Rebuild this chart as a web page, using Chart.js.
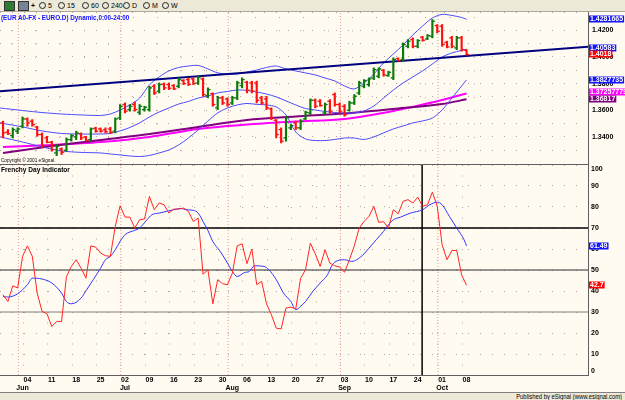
<!DOCTYPE html>
<html>
<head>
<meta charset="utf-8">
<title>EUR A0-FX daily with Frenchy Day Indicator</title>
<script src="https://cdn.jsdelivr.net/npm/chart.js@4.4.1/dist/chart.umd.min.js"></script>
<style>
html, body { margin: 0; padding: 0; }
body { width: 625px; height: 400px; position: relative; overflow: hidden; background: #fffbf0;
       font-family: 'Liberation Sans Narrow', 'Liberation Sans', Arial, sans-serif; }
.abs { position: absolute; }
.narrow { transform-origin: 0 0; white-space: nowrap; }
#toolbar { left: 0; top: 0; width: 625px; height: 11px; background: #ece9d8; border-bottom: 1px solid #aca899; }
#toolbar span, #toolbar b { position: absolute; top: 1px; font-size: 7px; line-height: 9px; color: #000; }
#toolbar u { display: inline-block; width: 5px; height: 5px; border: 1px solid #222; border-radius: 50%; margin-right: 2px; vertical-align: -1px; }
#toolbar i { position: absolute; top: 1px; width: 9px; height: 8px; }
#upper { left: 0; top: 12px; }
#lower { left: 0; top: 158px; }
#title { left: 1px; top: 13px; font-size: 8px; font-weight: bold; color: #1010ff; transform: scaleX(0.79); }
#copy { left: 1px; top: 157px; font-size: 5px; line-height: 6px; color: #000; transform: scaleX(0.93); }
#ind { left: 1px; top: 165px; font-size: 8px; font-weight: bold; color: #000; transform: scaleX(0.82); }
#footer { left: 0; top: 392px; width: 625px; height: 8px; background: #ece9d8; border-top: 1px solid #808080; }
#footer span { position: absolute; right: 3px; top: 0; font-size: 7px; line-height: 8px; transform-origin: 100% 0; transform: scaleX(0.84); white-space: nowrap; }
.frame { background: #606060; }
</style>
</head>
<body>
<div id="toolbar" class="abs">
  <i style="left:4px;background:#2f7d32;border:1px solid #333"></i>
  <i style="left:18px;background:#7a8296;border:1px solid #333"></i>
  <b style="left:31px">+</b>
  <span style="left:39px"><u></u>5</span>
  <span style="left:58px"><u></u>15</span>
  <span style="left:82px"><u></u>60</span>
  <span style="left:102px"><u></u>240</span>
  <span style="left:123px"><u></u>D</span>
  <span style="left:143px"><u></u>M</span>
  <span style="left:162px"><u></u>W</span>
</div>
<canvas id="upper" class="abs" width="625" height="152"></canvas>
<canvas id="lower" class="abs" width="625" height="234"></canvas>
<div id="title" class="abs narrow">(EUR A0-FX - EURO.D) Dynamic,0:00-24:00</div>
<div id="copy" class="abs narrow">Copyright © 2001 eSignal.</div>
<div id="ind" class="abs narrow">Frenchy Day Indicator</div>
<div class="abs frame" style="left:0;top:164px;width:589px;height:1px"></div>
<div class="abs frame" style="left:0;top:375px;width:589px;height:1px"></div>
<div class="abs frame" style="left:588px;top:12px;width:1px;height:364px"></div>
<div id="footer" class="abs"><span>Published by eSignal (www.esignal.com)</span></div>
<script>
const FONT = "'Liberation Sans Narrow','Liberation Sans',Arial,sans-serif";
const XMIN = -0.62, XMAX = 119.9;
const GRID_SHIFT = -0.85;
const TICK = 0.27;
const GRIDC = '#b9a3a3';

// x axis: bar 0 = 28 May 2007, one bar per weekday
const mondayIdx = [5, 10, 15, 20, 25, 30, 35, 40, 45, 50, 55, 60, 65, 70, 75, 80, 85, 90, 95];
const dayLabels = ['04', '11', '18', '25', '02', '09', '16', '23', '30', '06', '13', '20', '27', '03', '10', '17', '24', '01', '08'];
const monthIdx = [4, 25, 47, 70, 90];
const monthLabels = ['Jun', 'Jul', 'Aug', 'Sep', 'Oct'];

// daily price bars
const opens = [1.3505,1.3435,1.3410,1.3443,1.3480,1.3535,1.3518,1.3475,1.3418,1.3393,
  1.3360,1.3280,1.3310,1.3300,1.3380,1.3400,1.3425,1.3400,1.3380,1.3465,
  1.3460,1.3455,1.3460,1.3443,1.3543,1.3643,1.3605,1.3643,1.3585,1.3605,
  1.3605,1.3780,1.3743,1.3795,1.3793,1.3785,1.3780,1.3823,1.3830,1.3835,
  1.3805,1.3835,1.3710,1.3725,1.3618,1.3693,1.3685,1.3655,1.3693,1.3785,
  1.3810,1.3805,1.3805,1.3693,1.3685,1.3610,1.3525,1.3455,1.3393,1.3468,
  1.3505,1.3468,1.3535,1.3580,1.3675,1.3668,1.3580,1.3668,1.3718,1.3643,
  1.3630,1.3600,1.3655,1.3730,1.3780,1.3793,1.3843,1.3855,1.3900,1.3860,
  1.3843,1.3988,1.3980,1.4080,1.4130,1.4080,1.4148,1.4135,1.4155,1.4235,
  1.4230,1.4110,1.4143,1.4068,1.4143,1.4050];
const highs = [1.3518,1.3455,1.3468,1.3468,1.3550,1.3543,1.3530,1.3480,1.3430,1.3405,
  1.3368,1.3343,1.3318,1.3393,1.3418,1.3443,1.3430,1.3405,1.3468,1.3473,
  1.3468,1.3468,1.3473,1.3543,1.3643,1.3655,1.3643,1.3660,1.3643,1.3630,
  1.3780,1.3793,1.3805,1.3805,1.3805,1.3793,1.3843,1.3830,1.3843,1.3843,
  1.3855,1.3843,1.3768,1.3730,1.3705,1.3705,1.3693,1.3705,1.3818,1.3843,
  1.3818,1.3818,1.3818,1.3705,1.3705,1.3618,1.3530,1.3468,1.3555,1.3493,
  1.3518,1.3530,1.3593,1.3685,1.3685,1.3680,1.3655,1.3680,1.3730,1.3655,
  1.3643,1.3668,1.3718,1.3818,1.3830,1.3843,1.3918,1.3918,1.3905,1.3893,
  1.3993,1.3993,1.4105,1.4130,1.4143,1.4130,1.4155,1.4168,1.4280,1.4243,
  1.4243,1.4118,1.4155,1.4155,1.4155,1.4055];
const lows = [1.3393,1.3418,1.3393,1.3425,1.3468,1.3480,1.3480,1.3405,1.3318,1.3355,
  1.3293,1.3260,1.3268,1.3293,1.3368,1.3380,1.3380,1.3368,1.3368,1.3435,
  1.3435,1.3430,1.3425,1.3430,1.3530,1.3580,1.3593,1.3593,1.3568,1.3593,
  1.3593,1.3718,1.3730,1.3755,1.3755,1.3755,1.3768,1.3793,1.3785,1.3793,
  1.3793,1.3705,1.3693,1.3630,1.3605,1.3643,1.3630,1.3643,1.3680,1.3768,
  1.3730,1.3730,1.3655,1.3643,1.3605,1.3530,1.3393,1.3355,1.3368,1.3455,
  1.3455,1.3455,1.3530,1.3568,1.3618,1.3630,1.3568,1.3580,1.3630,1.3580,
  1.3555,1.3593,1.3643,1.3718,1.3768,1.3780,1.3830,1.3843,1.3855,1.3855,
  1.3830,1.3968,1.3968,1.4068,1.4068,1.4068,1.4118,1.4130,1.4143,1.4180,
  1.4080,1.4068,1.4068,1.4055,1.4043,1.4013];
const closes = [1.3430,1.3425,1.3455,1.3460,1.3535,1.3505,1.3493,1.3418,1.3335,1.3360,
  1.3305,1.3330,1.3285,1.3380,1.3410,1.3430,1.3393,1.3375,1.3460,1.3443,
  1.3443,1.3438,1.3435,1.3535,1.3630,1.3593,1.3630,1.3605,1.3630,1.3623,
  1.3768,1.3730,1.3793,1.3768,1.3765,1.3760,1.3830,1.3800,1.3795,1.3800,
  1.3848,1.3718,1.3755,1.3643,1.3693,1.3655,1.3643,1.3693,1.3805,1.3830,
  1.3750,1.3743,1.3675,1.3655,1.3618,1.3543,1.3418,1.3368,1.3543,1.3485,
  1.3468,1.3518,1.3585,1.3675,1.3630,1.3635,1.3643,1.3593,1.3643,1.3593,
  1.3568,1.3655,1.3705,1.3805,1.3823,1.3835,1.3905,1.3910,1.3865,1.3885,
  1.3980,1.3973,1.4093,1.4118,1.4080,1.4123,1.4125,1.4160,1.4268,1.4193,
  1.4093,1.4075,1.4080,1.4143,1.4055,1.4018];

// bollinger bands, read at these bar positions
const bandIdx = [-0.6,4,8,12,16,20,22,24,26,28,30,32,34,36,38,40,42,44,46,48,50,52,54,56,58,60,62,64,66,68,70,72,74,76,78,80,82,84,86,88,90,92,94,95];
const bandUp = [1.3617,1.3598,1.3583,1.3572,1.3565,1.3561,1.3572,1.3602,1.3640,1.3692,
  1.3790,1.3850,1.3895,1.3921,1.3932,1.3936,1.3910,1.3880,1.3872,1.3872,
  1.3887,1.3902,1.3921,1.3932,1.3910,1.3895,1.3880,1.3865,1.3842,1.3820,
  1.3782,1.3760,1.3805,1.3872,1.3955,1.4022,1.4090,1.4165,1.4232,1.4292,
  1.4319,1.4311,1.4296,1.4282];
const bandMid = [1.3505,1.3475,1.3445,1.3426,1.3422,1.3422,1.3426,1.3445,1.3471,1.3505,
  1.3550,1.3587,1.3617,1.3647,1.3666,1.3692,1.3707,1.3730,1.3741,1.3752,
  1.3749,1.3737,1.3722,1.3700,1.3670,1.3640,1.3613,1.3602,1.3591,1.3583,
  1.3580,1.3580,1.3595,1.3632,1.3692,1.3752,1.3805,1.3850,1.3895,1.3947,
  1.3999,1.4030,1.4049,1.4058];
const bandLow = [1.3400,1.3362,1.3325,1.3295,1.3284,1.3280,1.3272,1.3265,1.3257,1.3253,
  1.3261,1.3280,1.3302,1.3340,1.3392,1.3452,1.3520,1.3580,1.3617,1.3640,
  1.3651,1.3644,1.3640,1.3625,1.3565,1.3437,1.3385,1.3373,1.3373,1.3381,
  1.3392,1.3392,1.3381,1.3400,1.3430,1.3460,1.3482,1.3505,1.3520,1.3542,
  1.3602,1.3692,1.3782,1.3828];

// moving averages
const maIdx = [0, 10, 20, 30, 40, 50, 60, 70, 80, 90, 95];
const maPink = [1.3325,1.3340,1.3362,1.3400,1.3460,1.3494,1.3516,1.3535,1.3595,1.3677,1.3726];
const maPurple = [1.3280,1.3332,1.3377,1.3422,1.3475,1.3527,1.3553,1.3576,1.3610,1.3647,1.3682];

// trend line, value at left and right edge
const trendStart = 1.3742, trendEnd = 1.4077;

// Frenchy Day Indicator
const dayVals = [38.2,35.0,42.5,41.4,56.5,61.5,56.5,39.0,30.3,29.2,
  23.1,25.5,25.5,46.9,51.7,54.9,50.9,46.1,61.5,60.9,
  58.1,56.8,56.5,70.8,80.6,75.2,75.2,70.0,73.9,74.3,
  85.0,78.7,81.9,81.1,77.1,79.0,79.0,79.5,77.9,73.1,
  74.7,48.0,50.1,33.9,45.4,43.5,43.0,48.5,61.5,62.5,
  53.0,60.0,43.0,44.6,33.9,28.7,22.3,21.9,31.9,32.3,
  31.5,46.1,50.1,62.8,57.7,51.7,59.6,53.3,52.0,51.4,
  48.9,54.9,61.5,70.0,73.1,75.5,80.3,72.7,73.0,70.0,
  78.7,76.8,82.7,83.5,81.9,84.7,80.3,81.1,87.1,80.3,
  62.0,54.9,59.3,59.3,47.7,42.7];
const avgIdx = [0,1,3,5,6,8,10,12,13,14,16,17,18.5,20,21,22,23,24,25,27,
  28,29.5,30.5,32,33.5,35,36.5,37.5,39,40,41,42,43,44.5,46,47,48,49.5,50.5,51.5,
  53.5,54.5,56,57.5,59,60,61,62,63.5,65,66.5,67.5,68.5,70,71.5,72.5,74,75,76.5,78,
  79,80,81.5,83.5,86,87.5,89,90,91.5,93,94.5,95];
const avgVals = [37.4,37.1,38.7,43.0,46.1,45.7,43.8,39.0,35.0,33.9,36.6,40.1,45.4,50.9,54.9,56.5,59.6,63.6,66.8,68.9,
  70.0,73.9,76.3,77.1,77.9,78.7,79.3,78.7,78.4,77.1,73.1,68.8,63.6,58.9,53.3,49.3,46.9,48.8,49.3,52.0,
  51.7,50.1,45.4,39.0,35.0,31.1,32.7,35.0,39.8,43.8,47.7,52.5,54.4,54.9,54.1,54.9,57.7,60.4,64.4,68.4,
  71.5,73.9,75.2,77.1,78.7,81.1,82.3,81.1,75.5,70.0,64.4,61.49];
const levels = [70, 50, 30];
const levelColors = ['#000000', '#2a2a2a', '#808080'];
const markerIdx = 85.9;

const PMIN = 1.3197, PMAX = 1.4337;

const priceTags = [
  {value: 1.4281665, text: '1.4281665', bg: '#1414ff', nudge: 0},
  {value: 1.40583, text: '1.40583', bg: '#1414ff', nudge: -1},
  {value: 1.4018, text: '1.4018', bg: '#ff0000', nudge: -1},
  {value: 1.3827735, text: '1.3827735', bg: '#1414ff', nudge: 0},
  {value: 1.37257779, text: '1.37257779', bg: '#ff00ff', nudge: -1},
  {value: 1.36817, text: '1.36817', bg: '#800080', nudge: 0}
];
const indTags = [
  {value: 61.49, text: '61.49', bg: '#1414ff', nudge: 0},
  {value: 42.7, text: '42.7', bg: '#ff0000', nudge: 0}
];

const barIdx = closes.map((c, i) => i);
const barColor = i => closes[i] >= opens[i] ? '#0a7a0a' : '#ff1010';

function pts(xs, ys) { return xs.map((x, k) => ({x: x, y: ys[k]})); }
function line(data, color, width, extra) {
  return Object.assign({type: 'line', data: data, borderColor: color, borderWidth: width,
    pointRadius: 0, pointHoverRadius: 0, fill: false, tension: 0}, extra || {});
}
// right axis keeps its fixed width and adds no padding above or below the plot
function fitRight(s) { s.width = 37; s.paddingTop = 0; s.paddingBottom = 0; }

// coloured value boxes on the right axis
function valueTags(tags) {
  return {
    id: 'valueTags',
    afterDraw(chart) {
      const ctx = chart.ctx, area = chart.chartArea, y = chart.scales.y;
      ctx.save();
      ctx.font = 'bold 7px ' + FONT;
      ctx.textBaseline = 'middle';
      tags.forEach(t => {
        const py = Math.round(y.getPixelForValue(t.value) + t.nudge);
        const w = ctx.measureText(t.text).width + 2;
        ctx.fillStyle = t.bg;
        ctx.fillRect(area.right + 1, py - 3.5, w, 7);
        ctx.fillStyle = '#ffffff';
        ctx.fillText(t.text, area.right + 2, py + 0.5);
      });
      ctx.restore();
    }
  };
}

const tickFont = {family: FONT, size: 7, weight: 'bold'};

new Chart(document.getElementById('upper'), {
  type: 'line',
  data: {
    datasets: [
      ...monthIdx.map(m => line([{x: m + GRID_SHIFT, y: PMIN}, {x: m + GRID_SHIFT, y: PMAX}], '#e29a9a', 1, {borderDash: [1, 2], order: 20})),
      line(pts(maIdx, maPink), '#ff00ff', 2, {order: 6, tension: 0.3}),
      line(pts(maIdx, maPurple), '#800080', 2, {order: 5, tension: 0.3}),
      line(pts(bandIdx, bandLow), '#4b4bff', 1, {order: 4, tension: 0.3}),
      line(pts(bandIdx, bandMid), '#4b4bff', 1, {order: 4, tension: 0.3}),
      line(pts(bandIdx, bandUp), '#4b4bff', 1, {order: 4, tension: 0.3}),
      line([{x: XMIN, y: trendStart}, {x: XMAX, y: trendEnd}], '#000080', 2, {order: 3}),
      {type: 'bar', data: barIdx.map(i => ({x: i, y: [lows[i], highs[i]]})),
       backgroundColor: c => barColor(c.dataIndex), barThickness: 1.5, borderWidth: 0, grouped: false, order: 1},
      {type: 'line', showLine: false, data: barIdx.map(i => ({x: i - TICK, y: opens[i]})),
       pointStyle: 'line', pointRadius: 1.3, pointHoverRadius: 1.3, pointBorderWidth: 1.3, pointBorderColor: c => barColor(c.dataIndex), order: 1},
      {type: 'line', showLine: false, data: barIdx.map(i => ({x: i + TICK, y: closes[i]})),
       pointStyle: 'line', pointRadius: 1.3, pointHoverRadius: 1.3, pointBorderWidth: 1.3, pointBorderColor: c => barColor(c.dataIndex), order: 1}
    ]
  },
  options: {
    responsive: false,
    animation: false,
    events: [],
    layout: {padding: 0, autoPadding: false},
    plugins: {legend: {display: false}, tooltip: {enabled: false}},
    scales: {
      x: {
        type: 'linear', min: XMIN, max: XMAX, offset: false,
        afterBuildTicks: s => { s.ticks = mondayIdx.map(v => ({value: v + GRID_SHIFT})); },
        afterFit: s => { s.height = 0; s.paddingLeft = 0; s.paddingRight = 0; },
        ticks: {display: false},
        grid: {color: GRIDC, drawTicks: false},
        border: {display: false, dash: [1, 12.33], dashOffset: 8.33}
      },
      y: {
        position: 'right', min: PMIN, max: PMAX,
        afterFit: fitRight,
        ticks: {
          stepSize: 0.01, maxTicksLimit: 40, autoSkip: false, padding: 4, color: '#000', font: tickFont,
          callback: v => {
            const h = Math.round(v * 100);
            return (h % 2 === 0 && h >= 134 && h <= 142) ? v.toFixed(4) : '';
          }
        },
        grid: {color: GRIDC, drawTicks: false},
        border: {display: false, dash: [1, 11]}
      }
    }
  },
  plugins: [valueTags(priceTags)]
});

new Chart(document.getElementById('lower'), {
  type: 'line',
  data: {
    datasets: [
      ...monthIdx.map(m => line([{x: m + GRID_SHIFT, y: 0}, {x: m + GRID_SHIFT, y: 100}], '#e29a9a', 1, {borderDash: [1, 2], order: 20})),
      ...levels.map((v, k) => line([{x: XMIN, y: v}, {x: XMAX, y: v}], levelColors[k], k === 0 ? 1.3 : 1, {order: 10})),
      line([{x: markerIdx, y: 0}, {x: markerIdx, y: 100}], '#000000', 1.5, {order: 9}),
      line(pts(avgIdx, avgVals), '#3434ff', 1, {order: 2, cubicInterpolationMode: 'monotone'}),
      line(pts(barIdx, dayVals), '#ff2424', 1, {order: 1})
    ]
  },
  options: {
    responsive: false,
    animation: false,
    events: [],
    layout: {padding: {top: 7}, autoPadding: false},
    plugins: {legend: {display: false}, tooltip: {enabled: false}},
    scales: {
      xg: {
        type: 'linear', position: 'bottom', weight: -1, min: XMIN, max: XMAX, offset: false,
        afterBuildTicks: s => { s.ticks = mondayIdx.map(v => ({value: v + GRID_SHIFT})); },
        afterFit: s => { s.height = 0; },
        ticks: {display: false},
        grid: {color: GRIDC, drawTicks: false},
        border: {display: false, dash: [1, 9.5]}
      },
      x: {
        type: 'linear', position: 'bottom', weight: 0, min: XMIN, max: XMAX, offset: false,
        afterBuildTicks: s => { s.ticks = mondayIdx.map(v => ({value: v})); },
        afterFit: s => { s.height = 9; },
        ticks: {autoSkip: false, maxRotation: 0, padding: 1, color: '#000', font: tickFont,
                callback: (v, k) => dayLabels[k]},
        grid: {display: false, drawTicks: false},
        border: {display: false}
      },
      x2: {
        type: 'linear', position: 'bottom', weight: 1, min: XMIN, max: XMAX, offset: false,
        afterBuildTicks: s => { s.ticks = monthIdx.map(v => ({value: v})); },
        afterFit: s => { s.height = 8; },
        ticks: {autoSkip: false, maxRotation: 0, padding: 0, color: '#000', font: tickFont,
                callback: (v, k) => monthLabels[k]},
        grid: {display: false, drawTicks: false},
        border: {display: false}
      },
      y: {
        position: 'right', min: 0, max: 100,
        afterFit: fitRight,
        ticks: {stepSize: 10, autoSkip: false, padding: 3, color: '#000', font: tickFont,
                // top and bottom labels sit inside the panel
                callback: v => v === 100 ? ['', '100'] : v === 0 ? ['0', ''] : String(v)},
        grid: {color: GRIDC, drawTicks: false},
        border: {display: false, dash: [1, 11]}
      }
    }
  },
  plugins: [valueTags(indTags)]
});
</script>
</body>
</html>
